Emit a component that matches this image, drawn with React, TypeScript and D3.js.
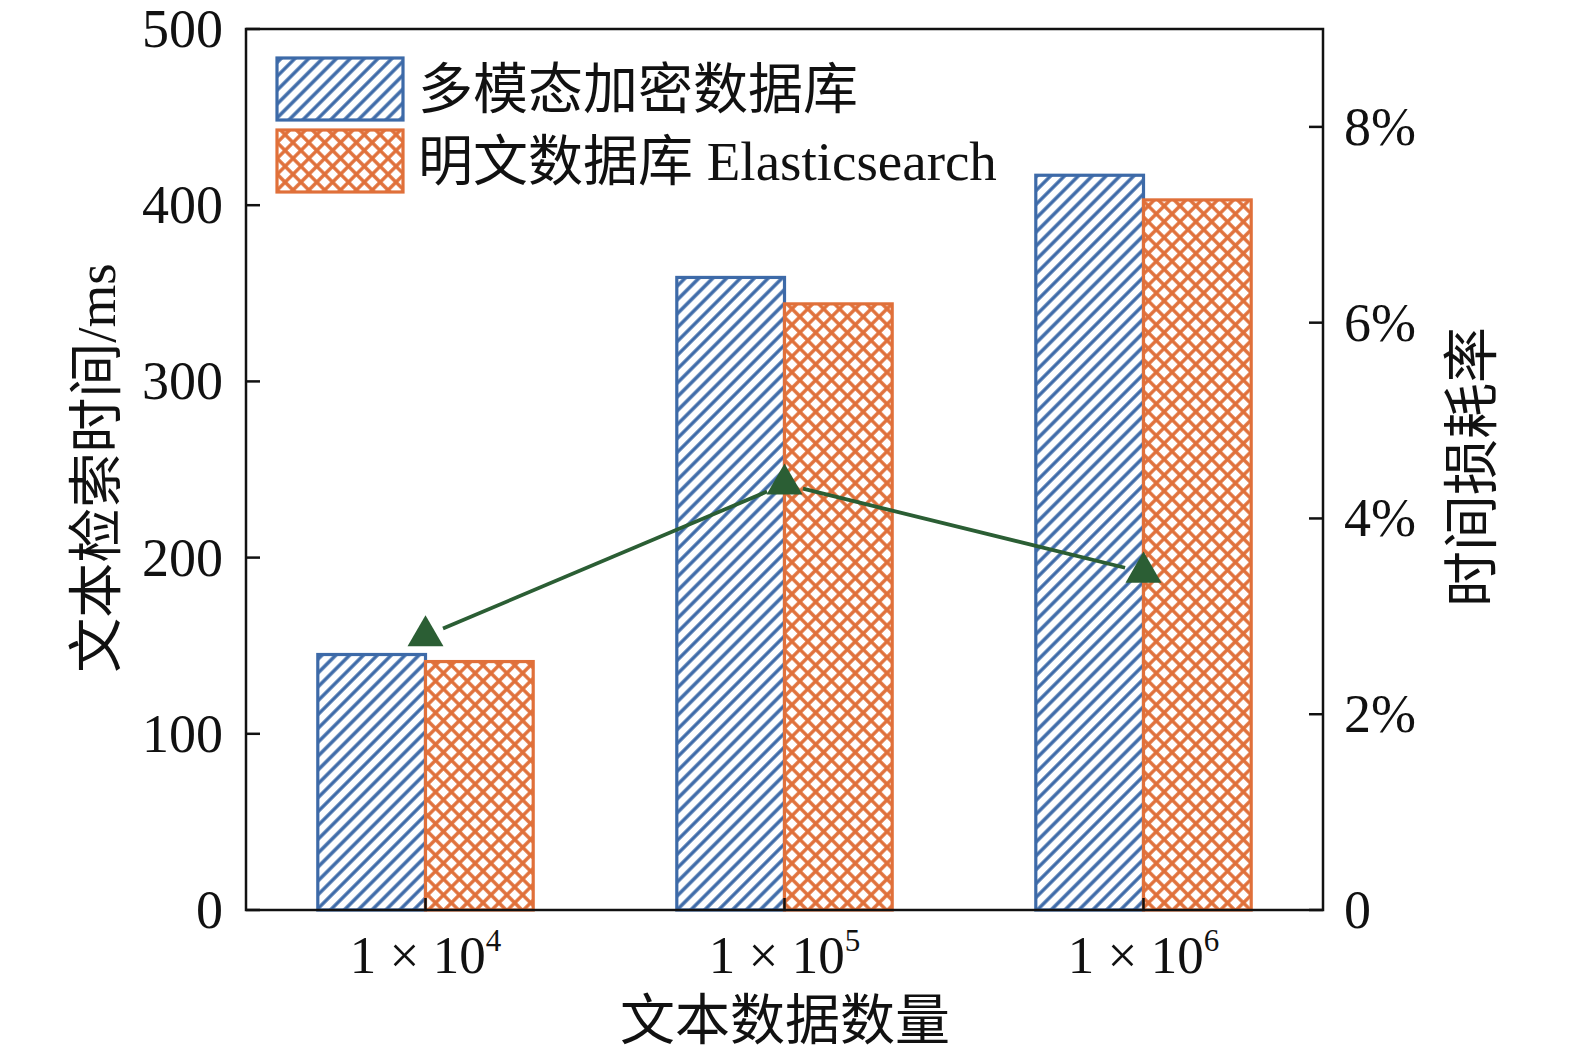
import React, { useRef, useEffect } from 'react';
import * as d3 from 'd3';

const categories: string[] = ['4', '5', '6'];
const seriesNames: string[] = ['多模态加密数据库', '明文数据库 Elasticsearch'];
const encryptedTimes: number[] = [145, 359, 417];
const plainTimes: number[] = [141, 344, 403];
const lossRates: number[] = [2.8, 4.35, 3.45];
const leftTicks: number[] = [0, 100, 200, 300, 400, 500];
const rightTicks: number[] = [0, 2, 4, 6, 8];

const BLUE = '#3d6aa8';
const ORANGE = '#e0703a';
const GREEN = '#2b5e34';
const FONT = '"Liberation Serif", "Noto Sans CJK SC", serif';

const App: React.FC = () => {
    const svgRef = useRef<SVGSVGElement | null>(null);

    useEffect(() => {
        const width = 1575;
        const height = 1061;
        const m = { left: 246, right: 1323, top: 29, bottom: 910 };

        const svg = d3.select(svgRef.current)
            .attr('width', width)
            .attr('height', height)
            .style('position', 'absolute')
            .style('left', '0px')
            .style('top', '0px')
            .style('background', '#fff');
        svg.selectAll('*').remove();

        // hatch patterns
        const defs = svg.append('defs');
        const ds = 9.8;
        const diag = defs.append('pattern')
            .attr('id', 'diag')
            .attr('patternUnits', 'userSpaceOnUse')
            .attr('width', ds)
            .attr('height', ds)
            .attr('patternTransform', 'rotate(45)');
        diag.append('rect').attr('width', ds).attr('height', ds).attr('fill', '#fff');
        diag.append('line')
            .attr('x1', ds / 2).attr('x2', ds / 2).attr('y1', 0).attr('y2', ds)
            .attr('stroke', BLUE).attr('stroke-width', 3.4);

        const cs = 11.2;
        const cross = defs.append('pattern')
            .attr('id', 'cross')
            .attr('patternUnits', 'userSpaceOnUse')
            .attr('width', cs)
            .attr('height', cs)
            .attr('patternTransform', 'rotate(45)');
        cross.append('rect').attr('width', cs).attr('height', cs).attr('fill', '#fff');
        cross.append('line')
            .attr('x1', cs / 2).attr('x2', cs / 2).attr('y1', 0).attr('y2', cs)
            .attr('stroke', ORANGE).attr('stroke-width', 3.4);
        cross.append('line')
            .attr('x1', 0).attr('x2', cs).attr('y1', cs / 2).attr('y2', cs / 2)
            .attr('stroke', ORANGE).attr('stroke-width', 3.4);

        const x0 = d3.scaleBand<string>()
            .domain(categories)
            .range([m.left, m.right])
            .padding(0);
        const bw = x0.bandwidth();
        const x1 = d3.scaleBand<number>()
            .domain([0, 1])
            .range([bw * 0.2, bw * 0.8])
            .padding(0);

        const yL = d3.scaleLinear().domain([0, 500]).range([m.bottom, m.top]);
        const yR = d3.scaleLinear().domain([0, 9]).range([m.bottom, m.top]);

        const series = [
            { values: encryptedTimes, fill: 'url(#diag)', stroke: BLUE },
            { values: plainTimes, fill: 'url(#cross)', stroke: ORANGE },
        ];

        // bars
        series.forEach((s, si) => {
            svg.append('g')
                .selectAll('rect')
                .data(s.values)
                .enter()
                .append('rect')
                .attr('x', (_d, i) => x0(categories[i])! + x1(si)!)
                .attr('y', d => yL(d))
                .attr('width', x1.bandwidth())
                .attr('height', d => yL(0) - yL(d))
                .attr('fill', s.fill)
                .attr('stroke', s.stroke)
                .attr('stroke-width', 3.2);
        });

        // frame
        const axisColor = '#111';
        svg.append('rect')
            .attr('x', m.left)
            .attr('y', m.top)
            .attr('width', m.right - m.left)
            .attr('height', m.bottom - m.top)
            .attr('fill', 'none')
            .attr('stroke', axisColor)
            .attr('stroke-width', 2.5);

        // left ticks
        leftTicks.forEach(t => {
            svg.append('line')
                .attr('x1', m.left).attr('x2', m.left + 14)
                .attr('y1', yL(t)).attr('y2', yL(t))
                .attr('stroke', axisColor).attr('stroke-width', 2.5);
            svg.append('text')
                .attr('x', 223)
                .attr('y', yL(t) + 18)
                .attr('text-anchor', 'end')
                .style('font-family', FONT)
                .style('font-size', '54px')
                .attr('fill', '#111')
                .text(t);
        });

        // right ticks
        rightTicks.forEach(t => {
            svg.append('line')
                .attr('x1', m.right - 14).attr('x2', m.right)
                .attr('y1', yR(t)).attr('y2', yR(t))
                .attr('stroke', axisColor).attr('stroke-width', 2.5);
            svg.append('text')
                .attr('x', 1344)
                .attr('y', yR(t) + 18)
                .style('font-family', FONT)
                .style('font-size', '54px')
                .attr('fill', '#111')
                .text(t === 0 ? '0' : `${t}%`);
        });

        // x ticks and labels
        categories.forEach(c => {
            const cx = x0(c)! + bw / 2;
            svg.append('line')
                .attr('x1', cx).attr('x2', cx)
                .attr('y1', m.bottom).attr('y2', m.bottom - 12)
                .attr('stroke', axisColor).attr('stroke-width', 2.5);
            const t = svg.append('text')
                .attr('x', cx)
                .attr('y', 973)
                .attr('text-anchor', 'middle')
                .style('font-family', FONT)
                .style('font-size', '53px')
                .attr('fill', '#111');
            t.append('tspan').text('1 × 10');
            t.append('tspan')
                .attr('dy', -22)
                .style('font-size', '31px')
                .text(c);
        });

        // loss-rate line with gaps around markers
        const pts = lossRates.map((v, i) => [x0(categories[i])! + bw / 2, yR(v)] as [number, number]);
        const gap = 19;
        for (let i = 0; i < pts.length - 1; i++) {
            const [ax, ay] = pts[i];
            const [bx, by] = pts[i + 1];
            const len = Math.hypot(bx - ax, by - ay);
            const ux = (bx - ax) / len;
            const uy = (by - ay) / len;
            svg.append('line')
                .attr('x1', ax + ux * gap).attr('y1', ay + uy * gap)
                .attr('x2', bx - ux * gap).attr('y2', by - uy * gap)
                .attr('stroke', GREEN)
                .attr('stroke-width', 3.8);
        }
        const tri = d3.symbol().type(d3.symbolTriangle).size(560);
        svg.append('g')
            .selectAll('path')
            .data(pts)
            .enter()
            .append('path')
            .attr('d', tri()!)
            .attr('transform', d => `translate(${d[0]},${d[1]})`)
            .attr('fill', GREEN);

        // legend
        const legendFills = ['url(#diag)', 'url(#cross)'];
        const legendStrokes = [BLUE, ORANGE];
        seriesNames.forEach((name, i) => {
            const y = 58 + i * 72;
            svg.append('rect')
                .attr('x', 277).attr('y', y)
                .attr('width', 126).attr('height', 62)
                .attr('fill', legendFills[i])
                .attr('stroke', legendStrokes[i])
                .attr('stroke-width', 3.2);
            svg.append('text')
                .attr('x', 418)
                .attr('y', y + 50)
                .style('font-family', FONT)
                .style('font-size', '55px')
                .attr('fill', '#111')
                .text(name);
        });

        // axis titles
        svg.append('text')
            .attr('x', 785)
            .attr('y', 1039)
            .attr('text-anchor', 'middle')
            .style('font-family', FONT)
            .style('font-size', '55px')
            .attr('fill', '#111')
            .text('文本数据数量');

        svg.append('text')
            .attr('transform', 'translate(115,468) rotate(-90)')
            .attr('text-anchor', 'middle')
            .style('font-family', FONT)
            .style('font-size', '55px')
            .attr('fill', '#111')
            .text('文本检索时间/ms');

        svg.append('text')
            .attr('transform', 'translate(1491,467) rotate(-90)')
            .attr('text-anchor', 'middle')
            .style('font-family', FONT)
            .style('font-size', '56px')
            .attr('fill', '#111')
            .text('时间损耗率');
    }, []);

    return (
        <svg ref={svgRef}></svg>
    );
};

export default App;
